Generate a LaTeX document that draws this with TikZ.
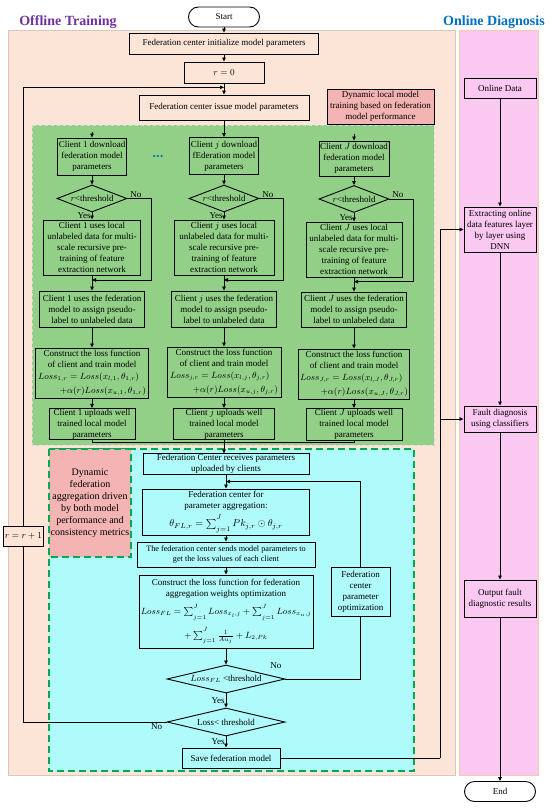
\documentclass[tikz,border=0pt]{standalone}
\usepackage{fontspec}
\setmainfont{Liberation Serif}
\usepackage{amsmath}
\usepackage{amssymb}
\usepackage{xcolor}
\usetikzlibrary{arrows.meta, positioning, calc, shapes.geometric}

\definecolor{offbg}{RGB}{252,228,214}
\definecolor{offedge}{RGB}{215,200,190}
\definecolor{onbg}{RGB}{250,200,240}
\definecolor{onedge}{RGB}{240,205,170}
\definecolor{clientbg}{RGB}{146,208,136}
\definecolor{fedbg}{RGB}{175,250,250}
\definecolor{dashgreen}{RGB}{0,168,80}
\definecolor{notepink}{RGB}{244,180,180}
\definecolor{titlepurple}{RGB}{112,48,160}
\definecolor{titleblue}{RGB}{0,112,192}

\newcommand{\sumJ}{\sum\nolimits_{\raisebox{-2pt}{$\scriptstyle j=1$}}^{\raisebox{2pt}{$\scriptstyle J$}}}

\begin{document}
\begin{tikzpicture}[x=1pt, y=-1pt,
  every node/.style={font=\fontsize{9}{11}\selectfont},
  box/.style={draw, line width=0.9pt, align=center, inner xsep=1pt, inner ysep=0.5pt},
  cond/.style={draw, line width=0.9pt, diamond, aspect=2.6, inner sep=0pt},
  term/.style={draw, line width=0.9pt, rounded corners=10pt, minimum width=71pt, minimum height=20pt},
  note/.style={box, fill=notepink},
  lbl/.style={inner sep=1pt},
  arr/.style={line width=0.8pt, -{Triangle[length=4pt, width=3.5pt]}},
  ln/.style={line width=0.8pt},
  headline/.style={font=\fontsize{14}{16}\selectfont\bfseries}
]
\useasboundingbox (0,0) rectangle (550,809);

% regions
\filldraw[fill=offbg, draw=offedge] (8,30) rectangle (455,775);
\filldraw[fill=onbg, draw=onedge] (459,30) rectangle (538,775);
\filldraw[fill=clientbg, draw=gray!30, dashed] (32,125) rectangle (434,445);
\filldraw[fill=fedbg, draw=dashgreen, line width=1.5pt, dash pattern=on 7pt off 4pt] (49,449) rectangle (414,771);
\filldraw[fill=notepink, draw=dashgreen, line width=1.5pt, dash pattern=on 7pt off 4pt] (49,449) rectangle (131,557);

\node[headline, text=titlepurple] (offtitle) at (68,22) {Offline Training};
\node[headline, text=titleblue] (ontitle) at (494,22) {Online Diagnosis};

% federation center
\node[term] (start) at (224,17) {Start};
\node[box, minimum width=189pt, minimum height=21pt] (init) at (224,43.5) {Federation center initialize model parameters};
\node[box, minimum width=80pt, minimum height=21pt] (r0) at (224,72.5) {$r=0$};
\node[box, minimum width=170pt, minimum height=25pt] (issue) at (224,107.5) {Federation center issue model parameters};
\node[note, minimum width=107pt, minimum height=35pt] (localnote) at (380.5,106.5) {Dynamic local model\\training based on federation\\model performance};

% client 1
\node[box, minimum width=69pt, minimum height=37pt] (dl1) at (92,156.5) {Client 1 download\\federation model\\parameters};
\node[cond, minimum width=70pt, minimum height=27pt] (th1) at (92,198.5) {$r$<threshold};
\node[box, minimum width=97pt, minimum height=55pt] (pre1) at (92,247.5) {Client 1 uses local\\unlabeled data for multi-\\scale recursive pre-\\training of feature\\extraction network};
\node[box, minimum width=105pt, minimum height=36pt] (ps1) at (92,309) {Client 1 uses the federation\\model to assign pseudo-\\label to unlabeled data};
\node[box, minimum width=113pt, minimum height=50pt] (ls1) at (92,373) {Construct the loss function\\of client and train model\\[1pt]
  \makebox[108pt][l]{$Loss_{1,r}=Loss(x_{l,1},\theta_{1,r})$}\\[3pt]
  \makebox[108pt][r]{$+\alpha(r)Loss(x_{u,1},\theta_{1,r})$}};
\node[box, minimum width=86pt, minimum height=31pt] (up1) at (92,424) {Client 1 uploads well\\trained local model\\parameters};

\node[text=titleblue, font=\fontsize{9}{9}\selectfont] (dots) at (158,157) {\textbullet\hspace{0.6pt}\textbullet\hspace{0.6pt}\textbullet};

% client j
\node[box, minimum width=67pt, minimum height=37pt] (dlj) at (224,156) {Client $j$ download\\fEderation model\\parameters};
\node[cond, minimum width=70pt, minimum height=27pt] (thj) at (224,198.5) {$r$<threshold};
\node[box, minimum width=100pt, minimum height=55pt] (prej) at (224,247.5) {Client $j$ uses local\\unlabeled data for multi-\\scale recursive pre-\\training of feature\\extraction network};
\node[box, minimum width=105pt, minimum height=36pt] (psj) at (224,309) {Client $j$ uses the federation\\model to assign pseudo-\\label to unlabeled data};
\node[box, minimum width=114pt, minimum height=50pt] (lsj) at (224,372) {Construct the loss function\\of client and train model\\[1pt]
  \makebox[108pt][l]{$Loss_{j,r}=Loss(x_{l,j},\theta_{j,r})$}\\[3pt]
  \makebox[108pt][r]{$+\alpha(r)Loss(x_{u,j},\theta_{j,r})$}};
\node[box, minimum width=101pt, minimum height=31pt] (upj) at (224,424) {Client $j$ uploads well\\trained local model\\parameters};

% client J
\node[box, minimum width=68pt, minimum height=35pt] (dlJ) at (354,158.5) {Client $J$ download\\federation model\\parameters};
\node[cond, minimum width=70pt, minimum height=27pt] (thJ) at (354,199) {$r$<threshold};
\node[box, minimum width=96pt, minimum height=55pt] (preJ) at (354,249.5) {Client $J$ uses local\\unlabeled data for multi-\\scale recursive pre-\\training of feature\\extraction network};
\node[box, minimum width=105pt, minimum height=35pt] (psJ) at (354,309.5) {Client $J$ uses the federation\\model to assign pseudo-\\label to unlabeled data};
\node[box, minimum width=111pt, minimum height=50pt] (lsJ) at (354,374) {Construct the loss function\\of client and train model\\[1pt]
  \makebox[108pt][l]{$Loss_{J,r}=Loss(x_{l,J},\theta_{J,r})$}\\[3pt]
  \makebox[108pt][r]{$+\alpha(r)Loss(x_{u,J},\theta_{J,r})$}};
\node[box, minimum width=96pt, minimum height=32pt] (upJ) at (354,424.5) {Client $J$ uploads well\\trained local model\\parameters};

% aggregation
\node[align=center, font=\fontsize{10}{12}\selectfont] (fednote) at (90,503) {Dynamic\\federation\\aggregation driven\\by both model\\performance and\\consistency metrics};
\node[box, minimum width=166pt, minimum height=20pt] (recv) at (226,464) {Federation Center receives parameters\\uploaded by clients};
\node[box, minimum width=167pt, minimum height=46pt] (agg) at (226,512) {Federation center for\\parameter aggregation:\\[4pt]
  {\fontsize{10}{13}\selectfont$\theta_{FL,r}=\sumJ Pk_{j,r}\odot\theta_{j,r}$}};
\node[box, minimum width=178pt, minimum height=25pt, font=\fontsize{8.2}{10.5}\selectfont] (send) at (226,554.5) {The federation center sends model parameters to\\get the loss values of each client};
\node[box, minimum width=174pt, minimum height=73pt] (cons) at (226,611.5) {Construct the loss function for federation\\aggregation weights optimization\\[5pt]
  $Loss_{FL}=\sumJ Loss_{x_l,j}+\sumJ Loss_{x_u,j}$\\[6pt]
  $+\sumJ\frac{1}{Au_j}+L_{2,Pk}$};
\node[cond, aspect=4.2, minimum width=118pt, minimum height=28pt] (flth) at (226,679) {$Loss_{FL}$ <threshold};
\node[cond, aspect=4.2, minimum width=118pt, minimum height=28pt] (lossth) at (226,722) {Loss< threshold};
\node[box, minimum width=98pt, minimum height=20pt] (save) at (231,758) {Save federation model};
\node[box, minimum width=59pt, minimum height=49pt] (fpo) at (360.5,591.5) {Federation\\center\\parameter\\optimization};
\node[box, fill=offbg, minimum width=33pt, minimum height=20pt] (rr) at (23.5,536) {$r=r+1$};

% online diagnosis
\node[box, minimum width=72pt, minimum height=20pt] (odata) at (500,88) {Online Data};
\node[box, minimum width=72pt, minimum height=45pt] (extract) at (500,229.5) {Extracting online\\data features layer\\by layer using\\DNN};
\node[box, minimum width=72pt, minimum height=26pt] (fault) at (500,419) {Fault diagnosis\\using classifiers};
\node[box, minimum width=72pt, minimum height=37pt] (output) at (500,598.5) {Output fault\\diagnostic results};
\node[term] (stop) at (500,791.5) {End};

% connectors
\draw[arr] (start) -- (init);
\draw[arr] (init) -- (r0);
\draw[arr] (r0) -- (issue);
\draw[arr] (issue.south) -- (dlj.north);
\coordinate (in1) at (92,132);
\coordinate (inJ) at (354,134);
\draw[arr] (in1) -- (dl1.north);
\draw[arr] (inJ) -- (dlJ.north);

\foreach \c in {1,j,J}{
  \draw[arr] (dl\c) -- (th\c);
  \draw[arr] (th\c.south) -- node[lbl, left]{Yes} (pre\c.north);
  \draw[arr] (th\c.east) -- node[lbl, above, pos=0.35]{No} ++(24,0) |- ($(pre\c.south)!0.3!(ps\c.north)$);
  \draw[arr] (pre\c) -- (ps\c);
  \draw[arr] (ps\c) -- (ls\c);
  \draw[arr] (ls\c) -- (up\c);
}

\coordinate (upjoin) at ($(upj.south)!0.2!(recv.north)$);
\draw[ln] (up1.south) |- (upjoin);
\draw[ln] (upJ.south) |- (upjoin);
\draw[arr] (upj.south) -- (upj.south |- recv.north);

\coordinate (aggin) at ($(recv.south)!0.5!(agg.north)$);
\draw[arr] (recv) -- (agg);
\draw[arr] (fpo.north) |- (aggin);
\draw[arr] (agg) -- (send);
\draw[arr] (send) -- (cons);
\draw[arr] (cons) -- (flth);
\draw[ln] (flth.east) -| (fpo.south);
\node[lbl, anchor=south east, xshift=-3pt, yshift=9pt] (nofl) at (flth.east) {No};
\draw[arr] (flth.south) -- node[lbl, left]{Yes} (lossth.north);
\draw[arr] (lossth.south) -- node[lbl, left]{Yes} (lossth.south |- save.north);
\draw[ln] (lossth.west) -- node[lbl, below, pos=0.07]{No} (lossth.west -| rr) -- (rr.south);
\coordinate (loopin) at ($(r0.south)!0.35!(issue.north)$);
\draw[arr] (rr.north) |- (loopin);

\coordinate (bus) at (440,0);
\draw[ln] (save.east) -- (save.east -| bus);
\draw[arr] (save.east -| bus) |- (extract.west);
\draw[arr] (bus |- fault.west) -- (fault.west);

\draw[arr] (odata) -- (extract);
\draw[arr] (extract) -- (fault);
\draw[arr] (fault) -- (output);
\draw[arr] (output) -- (stop);
\end{tikzpicture}
\end{document}
